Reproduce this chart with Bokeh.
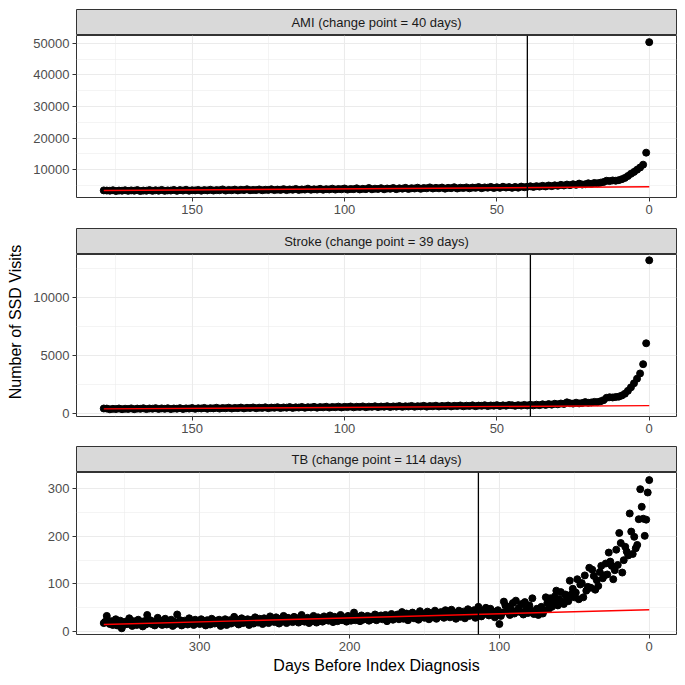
import math
from bokeh.plotting import figure
from bokeh.layouts import column, row
from bokeh.models import Range1d, FixedTicker, Span
from bokeh.embed import file_html
from bokeh.resources import INLINE
from bokeh.core.properties import value

FONT = "Liberation Sans"

# ---------------- data ----------------
strip_labels = ["AMI (change point = 40 days)",
                "Stroke (change point = 39 days)",
                "TB (change point = 114 days)"]
change_points = [40, 39, 114]

ami_days = list(range(0, 180))
ami_visits = [
    50400, 15400, 11600, 10700, 10000, 9300, 8700, 8000, 7400, 7000,
    6700, 6500, 6600, 6400, 6500, 6100, 5900, 5700, 5800, 5500,
    5700, 5400, 5300, 5600, 5200, 5400, 5100, 5300, 5000, 5200,
    4900, 5050, 4800, 5000, 4700, 4900, 4650, 4800, 4550, 4750,
    4600,
    4450, 4650, 4300, 4550, 4250, 4500, 4350, 4600, 4250,
    4450, 4200, 4550, 4300, 4400, 4150, 4500, 4250, 4350, 4100,
    4400, 4200, 4300, 4050, 4450, 4150, 4250, 4000, 4350, 4100,
    4250, 4050, 4400, 4100, 4200, 3950, 4300, 4050, 4150, 3900,
    4250, 4000, 4100, 3850, 4200, 3950, 4050, 3800, 4150, 3900,
    4000, 3800, 4200, 3850, 3950, 3750, 4100, 3850, 3900, 3700,
    4050, 3800, 3900, 3700, 4000, 3750, 3850, 3650, 3950, 3700,
    3800, 3650, 4000, 3700, 3750, 3600, 3900, 3650, 3750, 3550,
    3850, 3600, 3700, 3550, 3800, 3600, 3650, 3500, 3750, 3550,
    3600, 3500, 3800, 3550, 3650, 3450, 3700, 3500, 3600, 3400,
    3750, 3500, 3550, 3400, 3650, 3450, 3550, 3350, 3600, 3450,
    3500, 3350, 3650, 3400, 3550, 3300, 3600, 3400, 3450, 3300,
    3600, 3350, 3500, 3300, 3550, 3350, 3400, 3250, 3550, 3350,
    3450, 3300, 3500, 3350, 3400, 3250, 3500, 3350, 3400, 3450,
]
ami_fit_x = [179, 0]
ami_fit_y = [3400, 4600]

stroke_days = list(range(0, 180))
stroke_visits = [
    13200, 6050, 4250, 3450, 3000, 2600, 2250, 1950, 1700, 1550,
    1450, 1420, 1380, 1400, 1350, 1150, 1050, 980, 1000, 950,
    920, 980, 900, 870, 930, 850, 880, 960, 820, 860,
    790, 840, 760, 810, 740, 790, 720, 760, 700, 750,
    690,
    740, 680, 720, 660, 710, 730, 670, 700, 650,
    720, 670, 690, 640, 710, 660, 680, 630, 700, 650,
    670, 620, 690, 640, 660, 610, 680, 630, 650, 600,
    670, 620, 640, 590, 660, 610, 630, 580, 650, 600,
    620, 570, 640, 590, 610, 560, 630, 580, 600, 550,
    620, 570, 590, 540, 610, 560, 580, 530, 600, 550,
    570, 520, 590, 540, 560, 510, 580, 530, 550, 500,
    570, 520, 540, 490, 560, 510, 530, 480, 550, 500,
    520, 470, 540, 490, 510, 460, 530, 480, 500, 450,
    520, 470, 490, 440, 510, 460, 480, 430, 500, 450,
    470, 420, 490, 440, 460, 410, 480, 430, 450, 400,
    470, 420, 440, 390, 460, 410, 430, 380, 450, 400,
    440, 390, 460, 410, 430, 380, 450, 400, 420, 370,
    440, 390, 410, 370, 430, 380, 400, 360, 420, 430,
]
stroke_fit_x = [179, 0]
stroke_fit_y = [400, 680]

tb_days = list(range(0, 365))
tb_visits = [
    318, 292, 235, 201, 237, 262, 299, 236, 182, 175,
    199, 163, 210, 248, 160, 168, 178, 150, 124, 186,
    207, 140, 172, 129, 110, 138, 147, 166, 120, 143,
    118, 112, 138, 125, 96, 108, 88, 117, 130, 92,
    134, 94, 86, 118, 72, 102, 99, 68, 110, 82,
    72, 90, 78, 107, 64, 70, 78, 58, 62, 83,
    68, 55, 86, 74, 61, 52, 70, 48, 60, 72,
    45, 38, 52, 40, 35, 48, 42, 37, 70, 44,
    55, 39, 47, 62, 36, 58, 41, 50, 44, 65,
    38, 60, 46, 35, 52, 42, 55, 63, 40, 33,
    16, 45, 38, 30, 42, 36, 48, 34, 41, 50,
    37, 44, 32, 40, 52, 38, 29, 45, 35, 41,
    33, 47, 38, 28, 42, 36, 31, 44, 39, 27,
    40, 35, 46, 30, 38, 33, 45, 29, 36, 41,
    32, 38, 27, 44, 35, 30, 39, 26, 42, 34,
    29, 37, 31, 43, 25, 36, 33, 28, 40, 31,
    35, 24, 38, 30, 27, 41, 32, 26, 36, 29,
    33, 25, 37, 28, 31, 22, 35, 30, 26, 34,
    28, 32, 24, 36, 29, 26, 31, 23, 33, 27,
    30, 25, 34, 22, 28, 31, 24, 40, 27, 23,
    29, 33, 21, 27, 30, 24, 35, 26, 22, 28,
    31, 20, 26, 34, 23, 29, 25, 32, 21, 27,
    24, 30, 19, 28, 33, 22, 26, 18, 29, 25,
    21, 27, 35, 23, 19, 28, 24, 31, 20, 26,
    22, 29, 18, 25, 33, 21, 27, 17, 24, 30,
    20, 26, 23, 32, 18, 25, 21, 28, 16, 24,
    27, 19, 23, 30, 17, 25, 21, 14, 26, 20,
    23, 18, 28, 22, 15, 25, 19, 31, 21, 17,
    24, 20, 14, 26, 18, 22, 12, 25, 19, 23,
    17, 21, 27, 15, 20, 24, 13, 22, 18, 26,
    16, 21, 19, 25, 14, 22, 18, 28, 15, 20,
    23, 17, 13, 24, 19, 36, 16, 21, 12, 25,
    18, 22, 15, 27, 20, 14, 23, 17, 29, 19,
    13, 21, 16, 24, 18, 35, 15, 22, 11, 20,
    17, 25, 14, 19, 22, 12, 18, 28, 16, 21,
    15, 20, 7, 23, 17, 13, 26, 18, 14, 22,
    16, 19, 33, 21, 18,
]
tb_fit_x = [364, 0]
tb_fit_y = [15, 46]

x_ticks_short = [0, 50, 100, 150]
x_minor_short = [25, 75, 125, 175]
x_ticks_long = [0, 100, 200, 300]
x_minor_long = [50, 150, 250, 350]

ami_y_ticks = [10000, 20000, 30000, 40000, 50000]
ami_y_minor = [5000, 15000, 25000, 35000, 45000]
stroke_y_ticks = [0, 5000, 10000]
stroke_y_minor = [2500, 7500, 12500]
tb_y_ticks = [0, 100, 200, 300]
tb_y_minor = [50, 150, 250]

# ---------------- layout constants ----------------
COL_W = 649
LEFT_W = 28
ML = 48
MR = 1
GRID = "#EBEBEB"
DARK = "#333333"


def make_strip(label, height, top):
    s = figure(width=COL_W, height=height, x_range=Range1d(0, 1), y_range=Range1d(0, 1),
               x_axis_type=None, y_axis_type=None, output_backend="svg",
               toolbar_location=None, min_border_left=ML, min_border_right=MR,
               min_border_top=top, min_border_bottom=0)
    s.grid.visible = False
    s.background_fill_color = "#D9D9D9"
    s.outline_line_color = DARK
    s.outline_line_width = 1
    s.text(x=[0.5], y=[0.5], text=[label], text_align="center", text_baseline="middle",
           text_font=value(FONT), text_font_size="13px", text_color="#1A1A1A")
    return s


def make_panel(days, visits, fit_x, fit_y, cp, yr, xt, xm, yt, ym, height, bottom, xlabel=None):
    xmax = max(days)
    pad = 0.05 * xmax
    p = figure(width=COL_W, height=height,
               x_range=Range1d(xmax + pad, -pad), y_range=Range1d(yr[0], yr[1]),
               output_backend="svg", toolbar_location=None,
               min_border_left=ML, min_border_right=MR, min_border_top=0,
               min_border_bottom=bottom)
    p.background_fill_color = "white"
    p.outline_line_color = DARK
    p.outline_line_width = 1
    p.xaxis.ticker = FixedTicker(ticks=xt, minor_ticks=xm)
    p.yaxis.ticker = FixedTicker(ticks=yt, minor_ticks=ym)
    p.xgrid.ticker = FixedTicker(ticks=xt, minor_ticks=xm)
    p.ygrid.ticker = FixedTicker(ticks=yt, minor_ticks=ym)
    for g in (p.xgrid, p.ygrid):
        g.grid_line_color = GRID
        g.grid_line_width = 1.1
        g.minor_grid_line_color = GRID
        g.minor_grid_line_width = 0.55
    for ax in (p.xaxis, p.yaxis):
        ax.axis_line_color = None
        ax.major_tick_line_color = DARK
        ax.major_tick_line_width = 1
        ax.major_tick_out = 4
        ax.major_tick_in = 0
        ax.minor_tick_line_color = None
        ax.major_label_text_font = FONT
        ax.major_label_text_font_size = "13px"
        ax.major_label_text_color = "#4D4D4D"
        ax.major_label_standoff = 3
    if xlabel:
        p.xaxis.axis_label = xlabel
        p.xaxis.axis_label_text_font = FONT
        p.xaxis.axis_label_text_font_size = "16px"
        p.xaxis.axis_label_text_font_style = "normal"
        p.xaxis.axis_label_text_color = "black"
        p.xaxis.axis_label_standoff = 3
    p.scatter(days, visits, size=7, color="black")
    p.line(fit_x, fit_y, line_color="red", line_width=1.4)
    p.add_layout(Span(location=cp, dimension="height", line_color="black", line_width=1.3))
    return p


strip1 = make_strip(strip_labels[0], 35, 9)
p1 = make_panel(ami_days, ami_visits, ami_fit_x, ami_fit_y, change_points[0],
                (1200, 52500), x_ticks_short, x_minor_short, ami_y_ticks, ami_y_minor, 193, 31)
strip2 = make_strip(strip_labels[1], 26, 0)
p2 = make_panel(stroke_days, stroke_visits, stroke_fit_x, stroke_fit_y, change_points[1],
                (-260, 13700), x_ticks_short, x_minor_short, stroke_y_ticks, stroke_y_minor, 192, 30)
strip3 = make_strip(strip_labels[2], 26, 0)
p3 = make_panel(tb_days, tb_visits, tb_fit_x, tb_fit_y, change_points[2],
                (-6, 334), x_ticks_long, x_minor_long, tb_y_ticks, tb_y_minor, 205, 43,
                xlabel="Days Before Index Diagnosis")

TOTAL_H = 677
t = figure(width=LEFT_W, height=TOTAL_H, x_range=Range1d(0, LEFT_W), y_range=Range1d(0, TOTAL_H),
           x_axis_type=None, y_axis_type=None, output_backend="svg", toolbar_location=None,
           min_border_left=0, min_border_right=0, min_border_top=0, min_border_bottom=0)
t.grid.visible = False
t.outline_line_color = None
t.text(x=[15], y=[TOTAL_H - 321.5], text=["Number of SSD Visits"], angle=math.pi / 2,
       text_align="center", text_baseline="middle", text_font=value(FONT),
       text_font_size="16px", text_color="black")

layout = row(t, column(strip1, p1, strip2, p2, strip3, p3, spacing=0), spacing=0)

open("out.html", "w").write(file_html(layout, INLINE))
